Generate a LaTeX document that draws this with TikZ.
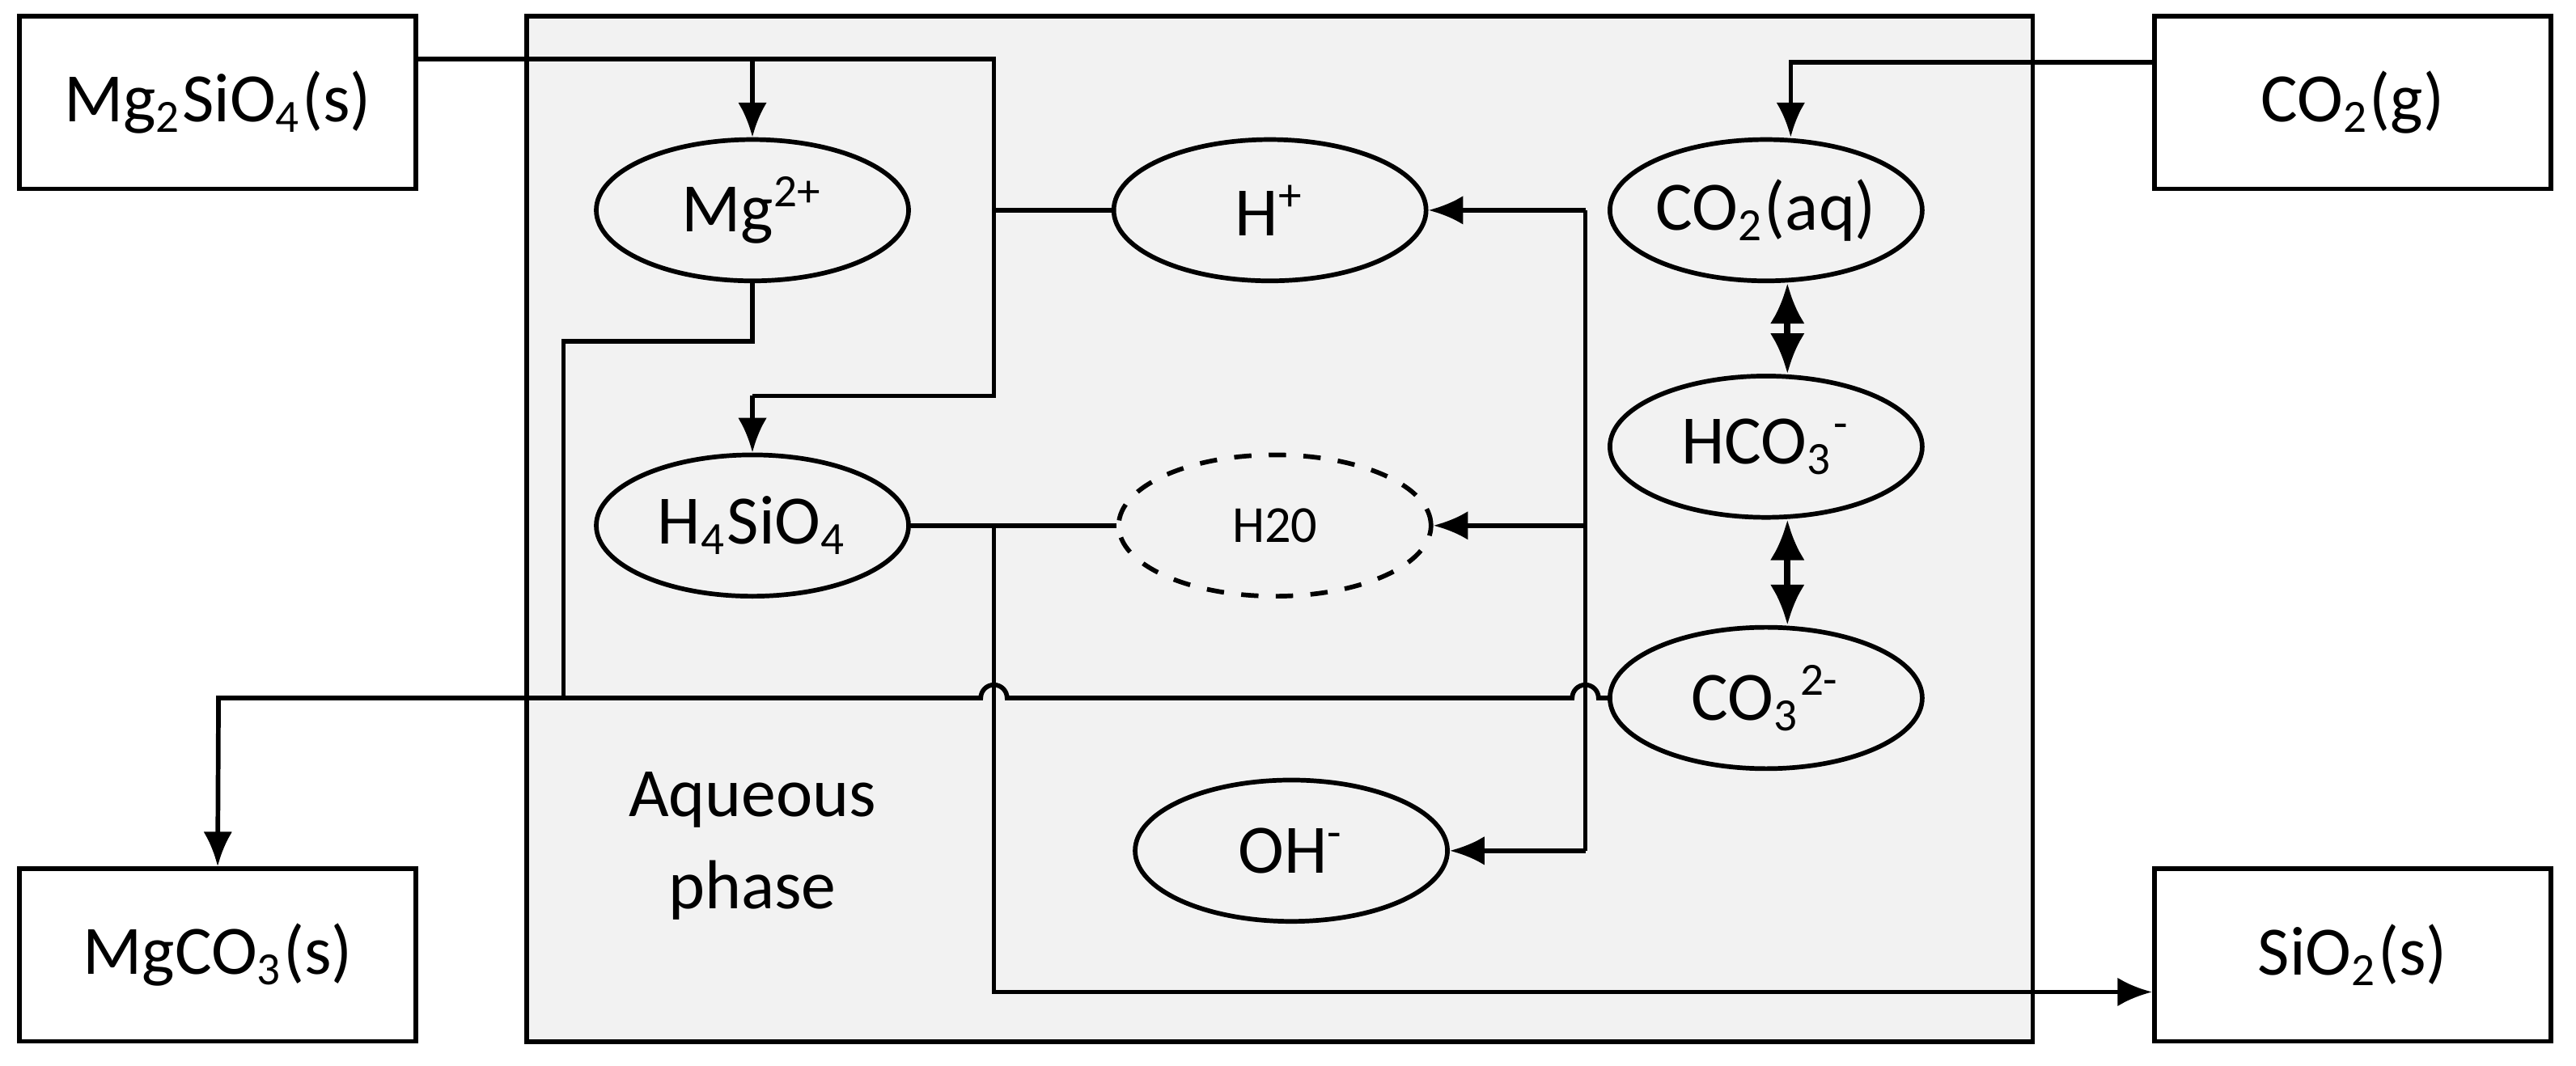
\documentclass[tikz,border=0pt]{standalone}
\usepackage{fontspec}
\setmainfont{Carlito}
\usetikzlibrary{shapes.geometric,arrows.meta}
\begin{document}
\begin{tikzpicture}[x=0.01cm,y=-0.01cm,
  box/.style={draw,line width=0.8pt,minimum width=2.41cm,minimum height=1.05cm,font=\fontsize{12}{14}\selectfont},
  ell/.style={draw,ellipse,line width=0.8pt,minimum width=1.9cm,minimum height=0.86cm,inner xsep=-10pt,inner ysep=0pt,font=\fontsize{12}{14}\selectfont},
  ln/.style={line width=0.8pt},
  ar/.style={ln,-{Latex[length=6pt,width=5pt]}},
  dar/.style={line width=1.1pt,{Latex[length=7pt,width=6pt]}-{Latex[length=7pt,width=6pt]}}]
\useasboundingbox (0,0) rectangle (1568,649);
\node[draw,line width=0.8pt,fill=black!5,minimum width=9.16cm,minimum height=6.24cm] (aq) at (779,322) {};
\node[box] (ms) at (132.5,62.5) {Mg\textsubscript{2}SiO\textsubscript{4}(s)};
\node[box] (cg) at (1432,62.5) {CO\textsubscript{2}(g)};
\node[box] (mc) at (132.5,581.5) {MgCO\textsubscript{3}(s)};
\node[box] (si) at (1432,581.5) {SiO\textsubscript{2}(s)};
\node[ell] (mg) at (458,128) {Mg\textsuperscript{2+}};
\node[ell] (hp) at (773,128) {H\textsuperscript{+}};
\node[ell] (ca) at (1075,128) {CO\textsubscript{2}(aq)};
\node[ell] (hs) at (458,320) {H\textsubscript{4}SiO\textsubscript{4}};
\node[ell,dashed,font=\fontsize{9}{11}\selectfont] (hw) at (776,320) {H20};
\node[ell] (hc) at (1075,272) {HCO\textsubscript{3}\textsuperscript{-}};
\node[ell] (c3) at (1075,425) {CO\textsubscript{3}\textsuperscript{2-}};
\node[ell] (oh) at (786,518) {OH\textsuperscript{-}};
\node[align=center,font=\fontsize{12}{16}\selectfont] (lab) at (458,515) {Aqueous\\phase};
\coordinate (j1) at (605,36);
\coordinate (j2) at (965,128);
\coordinate (j3) at (343,208);
\coordinate (j4) at (605,604);
\draw[ln] (ms.east |- j1) -- (j1) -- (605,241) -- (458,241);
\draw[ar] (458,241) -- (hs.north);
\draw[ar] (458,36) -- (mg.north);
\draw[ar] (cg.west |- 0,38) -- (1090,38) -- (ca.north -| 1090,0);
\draw[dar] (ca.south -| 1088,0) -- (hc.north -| 1088,0);
\draw[dar] (hc.south -| 1088,0) -- (c3.north -| 1088,0);
\draw[ln] (hp.west) -- (605,128);
\draw[ln] (j2) -- (965,518);
\draw[ar] (j2) -- (hp.east);
\draw[ar] (965,320) -- (hw.east);
\draw[ar] (965,518) -- (oh.east);
\draw[ln] (mg.south) -- (458,208) -- (j3) -- (343,425);
\draw[ar] (c3.west) -- (973,425) arc[start angle=0,end angle=180,radius=0.08cm] -- (613,425) arc[start angle=0,end angle=180,radius=0.08cm] -- (133,425) -- (mc.north);
\draw[ln] (hs.east) -- (hw.west);
\draw[ar] (605,320) -- (j4) -- (si.west |- j4);
\end{tikzpicture}
\end{document}
